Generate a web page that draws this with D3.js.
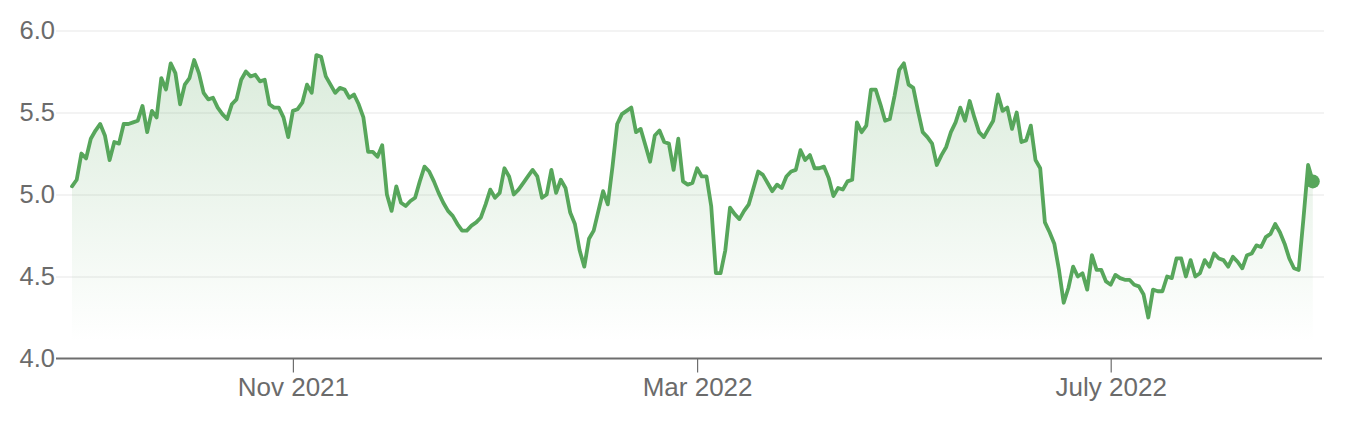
<!DOCTYPE html>
<html>
<head>
<meta charset="utf-8">
<script src="https://cdn.jsdelivr.net/npm/d3@7"></script>
<style>
  html, body { margin: 0; padding: 0; background: #fff; }
  svg { display: block; }
</style>
</head>
<body>
<svg id="chart" width="1352" height="426"></svg>
<script>
// ---- data ----
const startDate = "2021-08-26";
const endDate = "2022-08-31";
const values = [
5.05,5.09,5.25,5.22,5.34,5.39,5.43,5.36,5.21,5.32,
5.31,5.43,5.43,5.44,5.45,5.54,5.38,5.51,5.47,5.71,
5.64,5.80,5.74,5.55,5.67,5.71,5.82,5.74,5.62,5.58,
5.59,5.53,5.49,5.46,5.55,5.58,5.70,5.75,5.72,5.73,
5.69,5.70,5.55,5.53,5.53,5.47,5.35,5.51,5.52,5.56,
5.67,5.62,5.85,5.84,5.72,5.67,5.62,5.65,5.64,5.59,
5.61,5.55,5.47,5.26,5.26,5.23,5.30,5.00,4.90,5.05,
4.95,4.93,4.96,4.98,5.08,5.17,5.14,5.08,5.01,4.95,
4.90,4.87,4.82,4.78,4.78,4.81,4.83,4.86,4.94,5.03,
4.98,5.01,5.16,5.11,5.00,5.03,5.07,5.11,5.15,5.11,
4.98,5.00,5.15,5.01,5.09,5.04,4.89,4.82,4.66,4.56,
4.73,4.78,4.90,5.02,4.94,5.17,5.43,5.49,5.51,5.53,
5.38,5.40,5.30,5.20,5.36,5.39,5.32,5.31,5.15,5.34,
5.08,5.06,5.07,5.16,5.11,5.11,4.93,4.52,4.52,4.66,
4.92,4.88,4.85,4.90,4.94,5.04,5.14,5.12,5.07,5.02,
5.06,5.04,5.11,5.14,5.15,5.27,5.21,5.24,5.16,5.16,
5.17,5.10,4.99,5.04,5.03,5.08,5.09,5.44,5.38,5.42,
5.64,5.64,5.55,5.45,5.46,5.60,5.76,5.80,5.67,5.65,
5.51,5.38,5.35,5.31,5.18,5.24,5.29,5.38,5.44,5.53,
5.45,5.57,5.47,5.38,5.35,5.40,5.45,5.61,5.51,5.53,
5.40,5.50,5.32,5.33,5.42,5.21,5.16,4.83,4.77,4.70,
4.54,4.34,4.43,4.56,4.50,4.52,4.42,4.63,4.54,4.54,
4.47,4.45,4.51,4.49,4.48,4.48,4.45,4.44,4.39,4.25,
4.42,4.41,4.41,4.50,4.49,4.61,4.61,4.50,4.60,4.50,
4.52,4.60,4.56,4.64,4.61,4.60,4.56,4.62,4.59,4.55,
4.63,4.64,4.69,4.68,4.74,4.76,4.82,4.77,4.70,4.61,
4.55,4.54,4.85,5.18,5.08
];
const xTickDates = ["2021-11-01", "2022-03-01", "2022-07-01"];
const xTickLabels = ["Nov 2021", "Mar 2022", "July 2022"];
const yTicks = [4.0, 4.5, 5.0, 5.5, 6.0];

// ---- build categories (weekday sessions) ----
const parse = d3.utcParse("%Y-%m-%d");
const fmt = d3.utcFormat("%Y-%m-%d");
const dates = d3.utcDay.range(parse(startDate), d3.utcDay.offset(parse(endDate), 1))
  .filter(d => d.getUTCDay() !== 0 && d.getUTCDay() !== 6)
  .map(fmt);
const data = dates.map((d, i) => ({ date: d, value: values[i] }));

// ---- layout ----
const svg = d3.select("#chart");
const gridLeft = 56, gridRight = 1324;
const x = d3.scalePoint().domain(dates).range([72, 1312.8]);
const y = d3.scaleLinear().domain([4, 6]).range([358.5, 30.5]);

const green = "#57a65b";
const textColor = "#6b6b6b";
const font = "'Liberation Sans', Arial, Helvetica, sans-serif";

// gradient
const defs = svg.append("defs");
const grad = defs.append("linearGradient")
  .attr("id", "fillGrad")
  .attr("gradientUnits", "userSpaceOnUse")
  .attr("x1", 0).attr("x2", 0)
  .attr("y1", y(5.85)).attr("y2", y(4.1));
grad.append("stop").attr("offset", "0%").attr("stop-color", green).attr("stop-opacity", 0.22);
grad.append("stop").attr("offset", "100%").attr("stop-color", green).attr("stop-opacity", 0.0);

// gridlines + y labels
const yAxis = d3.axisLeft(y)
  .tickValues(yTicks)
  .tickSize(-(gridRight - gridLeft))
  .tickPadding(1)
  .tickFormat(d3.format(".1f"));
const gy = svg.append("g").attr("transform", `translate(${gridLeft},0)`).call(yAxis);
gy.select(".domain").remove();
gy.selectAll(".tick line").attr("stroke", "#efefef").attr("stroke-width", 1.5)
  .filter(d => d === 4).remove();
gy.selectAll(".tick text")
  .attr("fill", textColor)
  .style("font-family", font)
  .style("font-size", "25.5px");

// area + line
const area = d3.area()
  .x(d => x(d.date))
  .y0(y(4))
  .y1(d => y(d.value));
svg.append("path").datum(data)
  .attr("d", area)
  .attr("fill", "url(#fillGrad)");

const line = d3.line()
  .x(d => x(d.date))
  .y(d => y(d.value));
svg.append("path").datum(data)
  .attr("d", line)
  .attr("fill", "none")
  .attr("stroke", green)
  .attr("stroke-width", 3.8)
  .attr("stroke-linejoin", "round")
  .attr("stroke-linecap", "round");

// end dot
const last = data[data.length - 1];
svg.append("circle")
  .attr("cx", x(last.date))
  .attr("cy", y(last.value))
  .attr("r", 7)
  .attr("fill", green);

// x axis
const xAxis = d3.axisBottom(x)
  .tickValues(xTickDates)
  .tickFormat((d, i) => xTickLabels[i])
  .tickSize(14)
  .tickPadding(5);
const gx = svg.append("g").attr("transform", `translate(0,${y(4)})`).call(xAxis);
gx.select(".domain").remove();
gx.selectAll(".tick line").attr("stroke", "#6e6e6e").attr("stroke-width", 1.2);
gx.selectAll(".tick text")
  .attr("fill", textColor)
  .style("font-family", font)
  .style("font-size", "26px");
gx.append("line")
  .attr("x1", gridLeft).attr("x2", gridRight - 2)
  .attr("y1", 0).attr("y2", 0)
  .attr("stroke", "#6e6e6e")
  .attr("stroke-width", 2);
</script>
</body>
</html>
